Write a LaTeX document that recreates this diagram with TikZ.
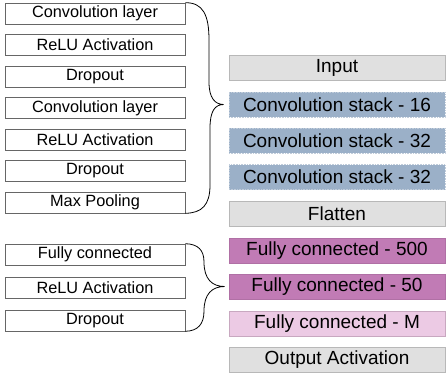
\documentclass[tikz,border=0pt]{standalone}
\usepackage{fontspec}
\setmainfont{Liberation Sans}
\definecolor{gbox}{HTML}{E0E0E0}
\definecolor{gline}{HTML}{B8B8B8}
\definecolor{bbox}{HTML}{9BB0C8}
\definecolor{bline}{HTML}{C0CCDA}
\definecolor{mbox}{HTML}{C17BB5}
\definecolor{mline}{HTML}{B070A5}
\definecolor{pbox}{HTML}{ECCAE4}
\definecolor{pline}{HTML}{C8A8C0}
\begin{document}
\begin{tikzpicture}[x=1pt,y=-1pt,
  lbox/.style={draw=black!60,line width=0.6pt,minimum width=180pt,minimum height=21pt,inner sep=0pt,font=\fontsize{16.3}{18}\selectfont},
  rbox/.style={minimum width=216pt,minimum height=25pt,inner sep=0pt,font=\fontsize{19}{22}\selectfont,line width=0.6pt},
  gray box/.style={rbox,fill=gbox,draw=gline},
  blue box/.style={rbox,fill=bbox,draw=bline,densely dotted},
  mag box/.style={rbox,fill=mbox,draw=mline},
  pink box/.style={rbox,fill=pbox,draw=pline},
  brace/.style={draw=black,line width=0.8pt}]
\useasboundingbox (0,0) rectangle (446,372);
% left boxes
\node[lbox] (c1) at (95,13.5) {Convolution layer};
\node[lbox] (r1) at (95,45) {ReLU Activation};
\node[lbox] (d1) at (95,76.5) {Dropout};
\node[lbox] (c2) at (95,108) {Convolution layer};
\node[lbox] (r2) at (95,139.5) {ReLU Activation};
\node[lbox] (d2) at (95,171) {Dropout};
\node[lbox] (mp) at (95,202.5) {Max Pooling};
\node[lbox] (fc) at (95,254.5) {Fully connected};
\node[lbox] (r3) at (95,287.5) {ReLU Activation};
\node[lbox] (d3) at (95,320.5) {Dropout};
% right boxes
\node[gray box] (in) at (337,67.5) {Input};
\node[blue box] (cs1) at (337,104.5) {Convolution stack - 16};
\node[blue box] (cs2) at (337,140.5) {Convolution stack - 32};
\node[blue box] (cs3) at (337,177) {Convolution stack - 32};
\node[gray box] (fl) at (337,213.5) {Flatten};
\node[mag box] (f500) at (337,250.5) {Fully connected - 500};
\node[mag box] (f50) at (337,286.5) {Fully connected - 50};
\node[pink box] (fm) at (337,323.5) {Fully connected - M};
\node[gray box] (out) at (337,359.5) {Output Activation};
% braces
\coordinate (t1) at ([xshift=-5pt]cs1.west);
\coordinate (t2) at ([xshift=-4pt]f50.west);
\path[brace] (c1.north east) .. controls (203,2.5) and (209,15) .. (209,40)
  -- (209,82) .. controls (209,98) and (215,104.5) .. (t1)
  .. controls (215,104.5) and (210,111) .. (210,128)
  -- (210,185) .. controls (210,205) and (202,213) .. (mp.south east);
\path[brace] (fc.north east) .. controls (198,244) and (204,250) .. (204,262)
  .. controls (204,279) and (212,286.5) .. (t2)
  .. controls (212,286.5) and (204,294) .. (204,311)
  .. controls (204,324) and (198,331) .. (d3.south east);
\end{tikzpicture}
\end{document}
